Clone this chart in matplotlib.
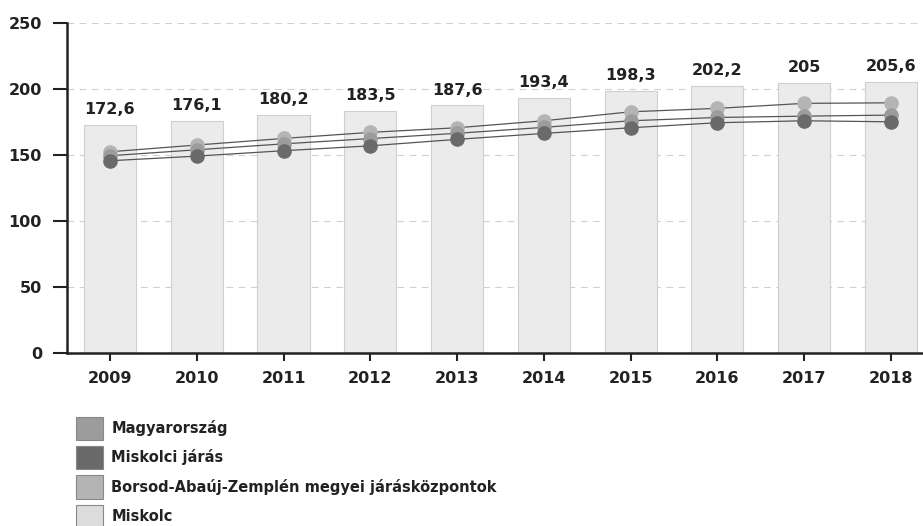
import matplotlib
matplotlib.use("Agg")
import matplotlib.pyplot as plt
from matplotlib.patches import Patch
import numpy as np

years = ["2009", "2010", "2011", "2012", "2013", "2014", "2015", "2016", "2017", "2018"]

# Miskolc (bars, labelled)
miskolc = [172.6, 176.1, 180.2, 183.5, 187.6, 193.4, 198.3, 202.2, 205.0, 205.6]
miskolc_labels = ["172,6", "176,1", "180,2", "183,5", "187,6", "193,4", "198,3", "202,2", "205", "205,6"]

# line series
magyarorszag = [149.5, 154.0, 158.5, 162.5, 166.5, 171.0, 176.0, 178.5, 179.5, 180.3]
miskolci_jaras = [145.7, 149.2, 153.3, 157.0, 161.9, 166.4, 170.7, 174.5, 176.0, 175.2]
baz_kozpontok = [152.5, 157.6, 162.6, 167.2, 170.7, 176.0, 182.8, 185.4, 189.2, 189.6]

legend_names = ["Magyarország", "Miskolci járás",
                "Borsod-Abaúj-Zemplén megyei járásközpontok", "Miskolc"]

C_HU = "#9c9c9c"
C_JARAS = "#6a6a6a"
C_BAZ = "#b4b4b4"
C_MISKOLC = "#dcdcdc"

fig = plt.figure(figsize=(9.23, 5.26), dpi=100)
ax = fig.add_axes([0.0726, 0.329, 0.9274, 0.627])

x = np.arange(len(years))

ax.bar(x, miskolc, width=0.6, color="#ebebeb", edgecolor="#cfcfcf", linewidth=0.8, zorder=2)
for xi, v, lab in zip(x, miskolc, miskolc_labels):
    ax.text(xi, v + 6, lab, ha="center", va="bottom", fontsize=11.5, fontweight="bold",
            color="#222222", zorder=5)

for vals, col in [(baz_kozpontok, C_BAZ), (magyarorszag, C_HU), (miskolci_jaras, C_JARAS)]:
    ax.plot(x, vals, color="#555555", linewidth=0.9, zorder=3)
    ax.plot(x, vals, linestyle="none", marker="o", markersize=9.5,
            markerfacecolor=col, markeredgecolor=col, zorder=4)

ax.set_ylim(0, 250)
ax.set_xlim(-0.495, 9.37)
ax.set_yticks([0, 50, 100, 150, 200, 250])
ax.set_xticks(x)
ax.set_xticklabels(years)
for lab in ax.get_xticklabels() + ax.get_yticklabels():
    lab.set_fontweight("bold")
    lab.set_fontsize(11.5)
    lab.set_color("#222222")

ax.yaxis.grid(True, linestyle=(0, (6, 5)), color="#d0d0d0", linewidth=0.8, zorder=0)
ax.set_axisbelow(True)
for s in ["top", "right"]:
    ax.spines[s].set_visible(False)
ax.spines["left"].set_linewidth(1.8)
ax.spines["bottom"].set_linewidth(1.8)
ax.spines["left"].set_color("#222222")
ax.spines["bottom"].set_color("#222222")
ax.tick_params(axis="y", direction="out", length=10, width=1.5, color="#222222", pad=8)
ax.tick_params(axis="x", direction="out", length=6, width=1.5, color="#222222", pad=7)

handles = [Patch(facecolor=c, edgecolor="#888888", linewidth=0.8)
           for c in [C_HU, C_JARAS, C_BAZ, C_MISKOLC]]
leg = fig.legend(handles, legend_names, loc="upper left", bbox_to_anchor=(0.082, 0.208),
                 frameon=False, fontsize=10.5, handlelength=1.9, handleheight=2.1,
                 handletextpad=0.55, labelspacing=0.4, borderaxespad=0, borderpad=0)
for t in leg.get_texts():
    t.set_fontweight("bold")
    t.set_color("#222222")

fig.savefig("out.png", dpi=100)
